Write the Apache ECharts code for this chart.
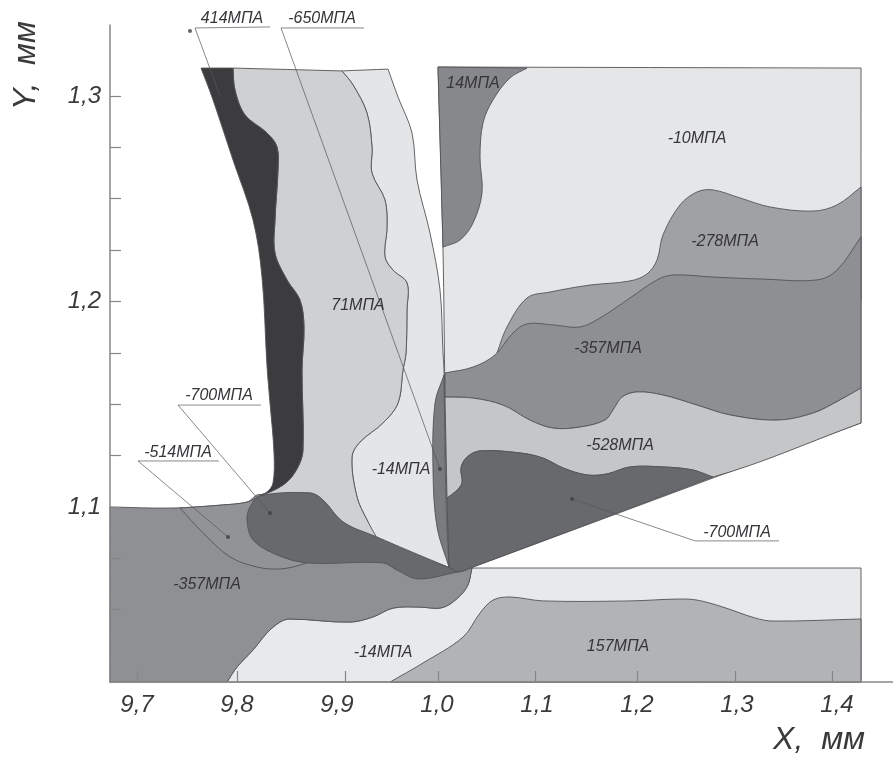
<!DOCTYPE html>
<html>
<head>
<meta charset="utf-8">
<style>html,body{margin:0;padding:0;background:#fff}#c{width:893px;height:757px}</style>
<script src="https://cdn.jsdelivr.net/npm/echarts@6/dist/echarts.min.js"></script>
</head>
<body>
<div id="c"></div>
<script>
// Axis ticks and labels
const xLabelValues = [9.7, 9.8, 9.9, 10.0, 10.1, 10.2, 10.3, 10.4];
const xLabelTexts = ['9,7', '9,8', '9,9', '1,0', '1,1', '1,2', '1,3', '1,4'];
const xTickValues = [9.7, 9.8, 9.908, 10.001, 10.098, 10.2, 10.298, 10.395];
const yLabelValues = [1.1, 1.2, 1.3];
const yLabelTexts = ['1,1', '1,2', '1,3'];
const yTickValues = [1.05, 1.075, 1.1, 1.125, 1.15, 1.175, 1.2, 1.225, 1.25, 1.275, 1.3];

// Contours, [X mm, Y mm]
const toolOuterEdge = [[9.951,1.3131],[9.961,1.2995],[9.975,1.2820],[9.980,1.2591],[9.993,1.2333],[10.003,1.2056],[10.006,1.1749],[10.007,1.1667],[10.010,1.1019],[10.013,1.0703]];
const contour71 = [[9.905,1.3122],[9.916,1.3054],[9.930,1.2917],[9.935,1.2752],[9.935,1.2625],[9.948,1.2494],[9.950,1.2363],[9.948,1.2217],[9.956,1.2153],[9.970,1.2090],[9.970,1.1959],[9.969,1.1749],[9.966,1.1667],[9.961,1.1506],[9.946,1.1409],[9.923,1.1316],[9.915,1.1243],[9.920,1.1049],[9.930,1.0937],[9.940,1.0849]];
const contour71Bottom = [[9.906,1.0927],[9.886,1.1034],[9.873,1.1068],[9.823,1.1054]];
const contour414Right = [[9.796,1.3136],[9.798,1.3029],[9.808,1.2908],[9.830,1.2820],[9.840,1.2752],[9.841,1.2640],[9.838,1.2397],[9.838,1.2236],[9.850,1.2105],[9.863,1.2007],[9.867,1.1876],[9.865,1.1667],[9.866,1.1277],[9.861,1.1195],[9.850,1.1122],[9.833,1.1073]];
const contour414Left = [[9.764,1.3136],[9.775,1.2995],[9.796,1.2689],[9.816,1.2397],[9.825,1.2119],[9.830,1.1686],[9.833,1.1506],[9.837,1.1263],[9.836,1.1117],[9.830,1.1073],[9.820,1.1054]];
const chip357Top = [[9.673,1.1000],[9.736,1.0995],[9.786,1.1010],[9.810,1.1024],[9.823,1.1059],[10.013,1.0703],[10.035,1.0703]];
const chip357Bottom = [[10.030,1.0611],[10.016,1.0538],[10.003,1.0508],[9.983,1.0513],[9.956,1.0508],[9.936,1.0465],[9.913,1.0440],[9.853,1.0455],[9.843,1.0440],[9.830,1.0387],[9.816,1.0304],[9.800,1.0221],[9.790,1.0148]];
const chip357Corner = [[9.673,1.0148]];
const chip514 = [[9.743,1.0995],[9.766,1.0874],[9.793,1.0757],[9.820,1.0708],[9.840,1.0698],[9.856,1.0708],[9.870,1.0728],[9.823,1.1054],[9.810,1.1024],[9.786,1.1010]];
const chip700 = [[9.810,1.0937],[9.813,1.1000],[9.823,1.1054],[9.873,1.1068],[9.886,1.1034],[9.906,1.0927],[9.940,1.0854],[9.970,1.0791],[10.013,1.0703],[10.021,1.0684],[9.981,1.0650],[9.960,1.0693],[9.946,1.0728],[9.870,1.0728],[9.840,1.0767],[9.816,1.0840]];
const stripCorners = [[10.035,1.0703],[10.424,1.0703],[10.424,1.0148]];
const strip157 = [[9.953,1.0148],[9.986,1.0241],[10.026,1.0367],[10.043,1.0484],[10.056,1.0547],[10.073,1.0562],[10.106,1.0543],[10.193,1.0543],[10.240,1.0552],[10.260,1.0547],[10.286,1.0513],[10.318,1.0460],[10.336,1.0445],[10.424,1.0455],[10.424,1.0148]];
const blockOutline = [[10.001,1.3141],[10.424,1.3136],[10.424,1.1409],[10.036,1.0708],[10.021,1.0684],[10.012,1.0708],[10.010,1.1044],[10.008,1.1535],[10.006,1.2250]];
const block14 = [[10.001,1.3141],[10.090,1.3136],[10.073,1.3088],[10.056,1.2981],[10.046,1.2869],[10.043,1.2703],[10.045,1.2528],[10.036,1.2382],[10.023,1.2299],[10.006,1.2265]];
const block278 = [[10.060,1.1749],[10.070,1.1876],[10.090,1.2017],[10.113,1.2046],[10.153,1.2080],[10.193,1.2100],[10.210,1.2134],[10.220,1.2202],[10.226,1.2324],[10.243,1.2470],[10.260,1.2533],[10.276,1.2543],[10.303,1.2504],[10.333,1.2460],[10.376,1.2440],[10.400,1.2470],[10.424,1.2557],[10.424,1.2007],[10.163,1.1813]];
const block357Top = [[10.008,1.1652],[10.036,1.1681],[10.058,1.1740],[10.076,1.1847],[10.090,1.1891],[10.116,1.1886],[10.143,1.1876],[10.163,1.1920],[10.193,1.2017],[10.220,1.2105],[10.236,1.2129],[10.276,1.2119],[10.326,1.2109],[10.380,1.2105],[10.400,1.2153],[10.424,1.2314]];
const block528Top = [[10.008,1.1535],[10.036,1.1530],[10.066,1.1496],[10.093,1.1423],[10.116,1.1384],[10.143,1.1389],[10.168,1.1423],[10.176,1.1472],[10.185,1.1535],[10.200,1.1560],[10.226,1.1545],[10.260,1.1496],[10.293,1.1448],[10.340,1.1423],[10.376,1.1457],[10.403,1.1521],[10.424,1.1579]];
const block700Top = [[10.010,1.1044],[10.018,1.1073],[10.025,1.1117],[10.024,1.1190],[10.030,1.1243],[10.043,1.1273],[10.083,1.1263],[10.106,1.1238],[10.126,1.1190],[10.150,1.1156],[10.170,1.1161],[10.193,1.1195],[10.226,1.1195],[10.256,1.1180],[10.276,1.1146]];
const block700Tip = [[10.036,1.0708],[10.021,1.0684],[10.012,1.0708]];
const sliver14 = [[10.007,1.1642],[9.998,1.1506],[9.996,1.1180],[10.000,1.0903],[10.012,1.0708],[10.009,1.1019]];

// Callouts: polyline through the underline, and the points they mark
const leader414 = [[9.833,1.3336],[9.758,1.3331],[9.783,1.3000]];
const leader650 = [[9.927,1.3331],[9.844,1.3331],[10.003,1.1185]];
const leader700a = [[9.824,1.1496],[9.741,1.1496],[9.833,1.0971]];
const leader514 = [[9.782,1.1224],[9.701,1.1224],[9.791,1.0854]];
const leader700b = [[10.135,1.1039],[10.258,1.0835],[10.342,1.0835]];
const markerPoints = [[9.753,1.3316],[9.783,1.3000],[10.003,1.1185],[9.833,1.0971],[9.791,1.0854],[10.135,1.1039]];

// Stress labels
const labelTexts = ['414МПА','-650МПА','-700МПА','-514МПА','-700МПА','71МПА','14МПА','-10МПА','-278МПА','-357МПА','-528МПА','157МПА','-14МПА','-357МПА','-14МПА'];
const labelX = [9.795,9.885,9.782,9.741,10.300,9.921,10.036,10.260,10.288,10.171,10.183,10.181,9.964,9.770,9.946];
const labelY = [1.3375,1.3375,1.1540,1.1263,1.0874,1.1978,1.3063,1.2791,1.2294,1.1769,1.1297,1.0319,1.1180,1.0625,1.0294];

const rev = a => a.slice().reverse();
const regions = [
  {points: toolOuterEdge.concat(rev(contour71)), fill: '#e4e5e7'},
  {points: contour71.concat(contour71Bottom, rev(contour414Right)), fill: '#cfd0d2'},
  {points: contour414Left.concat(rev(contour414Right)), fill: '#3c3c3f'},
  {points: rev(chip357Bottom).concat(stripCorners), fill: '#e8e9ea'},
  {points: strip157, fill: '#b2b3b5'},
  {points: chip357Top.concat(chip357Bottom, chip357Corner), fill: '#8f9094'},
  {points: chip514, fill: '#929397'},
  {points: chip700, fill: '#68696d'},
  {points: blockOutline, fill: '#e5e6e8'},
  {points: block14, fill: '#87888c'},
  {points: block278, fill: '#a0a1a4'},
  {points: block357Top.concat(rev(block528Top)), fill: '#8e8f92'},
  {points: block528Top.concat([[10.424,1.1409]], rev(block700Top)), fill: '#c5c6c8'},
  {points: block700Top.concat(block700Tip), fill: '#68696d'},
  {points: sliver14, fill: '#7a7b7f'}
];
const leaders = [leader414, leader650, leader700a, leader514, leader700b];
const LABEL_FONT = '"Liberation Sans Narrow","Liberation Sans",sans-serif';

// Keep real corners sharp under polygon smoothing by doubling those vertices
function withCorners(pts) {
  const out = [], n = pts.length;
  for (let i = 0; i < n; i++) {
    const p = pts[i], a = pts[(i - 1 + n) % n], b = pts[(i + 1) % n];
    const ux = p[0]-a[0], uy = (p[1]-a[1])*2, vx = b[0]-p[0], vy = (b[1]-p[1])*2;
    const c = (ux*vx + uy*vy) / (Math.hypot(ux,uy) * Math.hypot(vx,vy) || 1);
    out.push(p);
    if (c < 0.65) out.push(p.slice());
  }
  return out;
}

const lookup = (vals, texts) => v => {
  let best = 0;
  vals.forEach((w, i) => { if (Math.abs(w - v) < Math.abs(vals[best] - v)) best = i; });
  return texts[best];
};

const axisLine = {show: true, onZero: false, lineStyle: {color: '#858688', width: 1.5}};
const tickLine = {color: '#858688', width: 1.2};

const chart = echarts.init(document.getElementById('c'), null, {renderer: 'canvas'});
chart.setOption({
  animation: false,
  backgroundColor: '#fff',
  grid: {left: 110, right: 0, top: 25, bottom: 75, outerBoundsMode: 'none'},
  xAxis: {
    type: 'value', min: 9.673, max: 10.456, z: 10,
    splitLine: {show: false}, axisLine,
    axisTick: {show: true, inside: true, length: 11, customValues: xTickValues, lineStyle: tickLine},
    axisLabel: {customValues: xLabelValues, formatter: lookup(xLabelValues, xLabelTexts), margin: 11,
      fontFamily: LABEL_FONT, fontStyle: 'italic', fontSize: 24, color: '#3a3a3c'},
    name: 'X,  мм', nameLocation: 'end', nameGap: 0,
    nameTextStyle: {fontFamily: LABEL_FONT, fontStyle: 'italic', fontSize: 32, color: '#3a3a3c',
      align: 'right', verticalAlign: 'top', padding: [42, 28, 0, 0]}
  },
  yAxis: {
    type: 'value', min: 1.01484, max: 1.33455, z: 10,
    splitLine: {show: false}, axisLine,
    axisTick: {show: true, inside: true, length: 11, customValues: yTickValues, lineStyle: tickLine},
    axisLabel: {customValues: yLabelValues, formatter: lookup(yLabelValues, yLabelTexts), margin: 9,
      fontFamily: LABEL_FONT, fontStyle: 'italic', fontSize: 24, color: '#3a3a3c'},
    name: 'Y,  мм', nameLocation: 'end', nameRotate: 90, nameGap: -85,
    nameTextStyle: {fontFamily: LABEL_FONT, fontStyle: 'italic', fontSize: 32, color: '#3a3a3c',
      align: 'left', verticalAlign: 'bottom', padding: [0, 0, 68, 0]}
  },
  series: [
    {
      type: 'custom', name: 'contours', coordinateSystem: 'cartesian2d', z: 2, silent: true, clip: false,
      data: regions.map((r, i) => [r.points[0][0], r.points[0][1], i]),
      renderItem(params, api) {
        const r = regions[api.value(2)];
        return {
          type: 'polygon',
          shape: {points: withCorners(r.points).map(p => api.coord(p)), smooth: 0.35},
          style: {fill: r.fill, stroke: '#525356', lineWidth: 0.9}
        };
      }
    },
    {
      type: 'custom', name: 'leaders', coordinateSystem: 'cartesian2d', z: 3, silent: true, clip: false,
      data: leaders.map((l, i) => [l[0][0], l[0][1], i]),
      renderItem(params, api) {
        const l = leaders[api.value(2)];
        return {
          type: 'polyline',
          shape: {points: l.map(p => api.coord(p))},
          style: {fill: 'none', stroke: '#55565a', lineWidth: 0.7}
        };
      }
    },
    {
      type: 'scatter', name: 'markers', symbolSize: 4, z: 4, silent: true,
      itemStyle: {color: '#3f3f42'}, data: markerPoints, clip: false
    },
    {
      type: 'custom', name: 'labels', coordinateSystem: 'cartesian2d', z: 5, silent: true, clip: false,
      data: labelTexts.map((t, i) => [labelX[i], labelY[i], i]),
      renderItem(params, api) {
        const c = api.coord([api.value(0), api.value(1)]);
        return {
          type: 'text',
          style: {
            x: c[0], y: c[1], text: labelTexts[api.value(2)], align: 'center', verticalAlign: 'middle',
            fontFamily: LABEL_FONT, fontStyle: 'italic', fontSize: 16, fill: '#35353a'
          }
        };
      }
    }
  ]
});
</script>
</body>
</html>
